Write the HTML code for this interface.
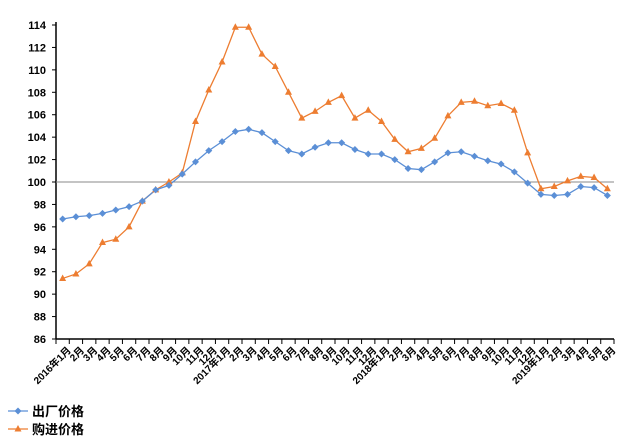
<!DOCTYPE html><html><head><meta charset="utf-8"><style>body{margin:0;background:#fff}svg{display:block}text{font-family:"Liberation Sans","Noto Sans CJK SC",sans-serif;font-weight:bold;fill:#000}</style></head><body>
<svg id="s" width="626" height="436" xmlns="http://www.w3.org/2000/svg"></svg>
<script>
const s=document.getElementById('s');let h='';
const y=v=>339-(v-86)*11.214;const x=i=>56+13.286*(i+0.5);
for(let v=86;v<=114;v+=2){h+=`<text x="46" y="${y(v)+4}" font-size="11" text-anchor="end">${v}</text><line x1="52" x2="56" y1="${y(v)}" y2="${y(v)}" stroke="#000"/>`;}
h+=`<line x1="56" y1="22" x2="56" y2="339" stroke="#000" stroke-width="1.5"/><line x1="56" y1="339" x2="614" y2="339" stroke="#000" stroke-width="1.5"/>`;
h+=`<line x1="56" y1="${y(100)}" x2="614" y2="${y(100)}" stroke="#888" stroke-width="1"/>`;
for(let i=0;i<=42;i++){const tx=56+13.286*i;h+=`<line x1="${tx}" x2="${tx}" y1="339" y2="344" stroke="#000"/>`;}
for(let i=0;i<42;i++){const m=i%12+1;let l=m+'月';if(m==1)l=(2016+i/12)+'年1月';const tx=x(i)+4,ty=346;h+=`<text font-size="10" text-anchor="end" transform="translate(${tx},${ty}) rotate(-45)" dy="0.7em">${l}</text>`;}
const b=[96.7,96.9,97.0,97.2,97.5,97.8,98.3,99.3,99.7,100.7,101.8,102.8,103.6,104.5,104.7,104.4,103.6,102.8,102.5,103.1,103.5,103.5,102.9,102.5,102.5,102.0,101.2,101.1,101.8,102.6,102.7,102.3,101.9,101.6,100.9,99.9,98.9,98.8,98.9,99.6,99.5,98.8];
const o=[91.4,91.8,92.7,94.6,94.9,96.0,98.3,99.3,100.0,100.8,105.4,108.2,110.7,113.8,113.8,111.4,110.3,108.0,105.7,106.3,107.1,107.7,105.7,106.4,105.4,103.8,102.7,103.0,103.9,105.9,107.1,107.2,106.8,107.0,106.4,102.6,99.4,99.6,100.1,100.5,100.4,99.4];
const line=(d,c)=>`<polyline fill="none" stroke="${c}" stroke-width="1.3" points="${d.map((v,i)=>x(i)+','+y(v)).join(' ')}"/>`;
h+=line(o,'#ED7D31')+line(b,'#5B8FD6');
o.forEach((v,i)=>{const X=x(i),Y=y(v);h+=`<polygon points="${X},${Y-4} ${X-3.5},${Y+2.5} ${X+3.5},${Y+2.5}" fill="#ED7D31"/>`;});
b.forEach((v,i)=>{const X=x(i),Y=y(v);h+=`<polygon points="${X},${Y-3.5} ${X+3.5},${Y} ${X},${Y+3.5} ${X-3.5},${Y}" fill="#5B8FD6"/>`;});
h+=`<line x1="8" x2="28" y1="411" y2="411" stroke="#5B8FD6" stroke-width="1.3"/><polygon points="18,407.5 21.5,411 18,414.5 14.5,411" fill="#5B8FD6"/><text x="32" y="416" font-size="13">出厂价格</text>`;
h+=`<line x1="8" x2="28" y1="429" y2="429" stroke="#ED7D31" stroke-width="1.3"/><polygon points="18,425 14.5,431.5 21.5,431.5" fill="#ED7D31"/><text x="32" y="434" font-size="13">购进价格</text>`;
s.innerHTML=h;
</script></body></html>
